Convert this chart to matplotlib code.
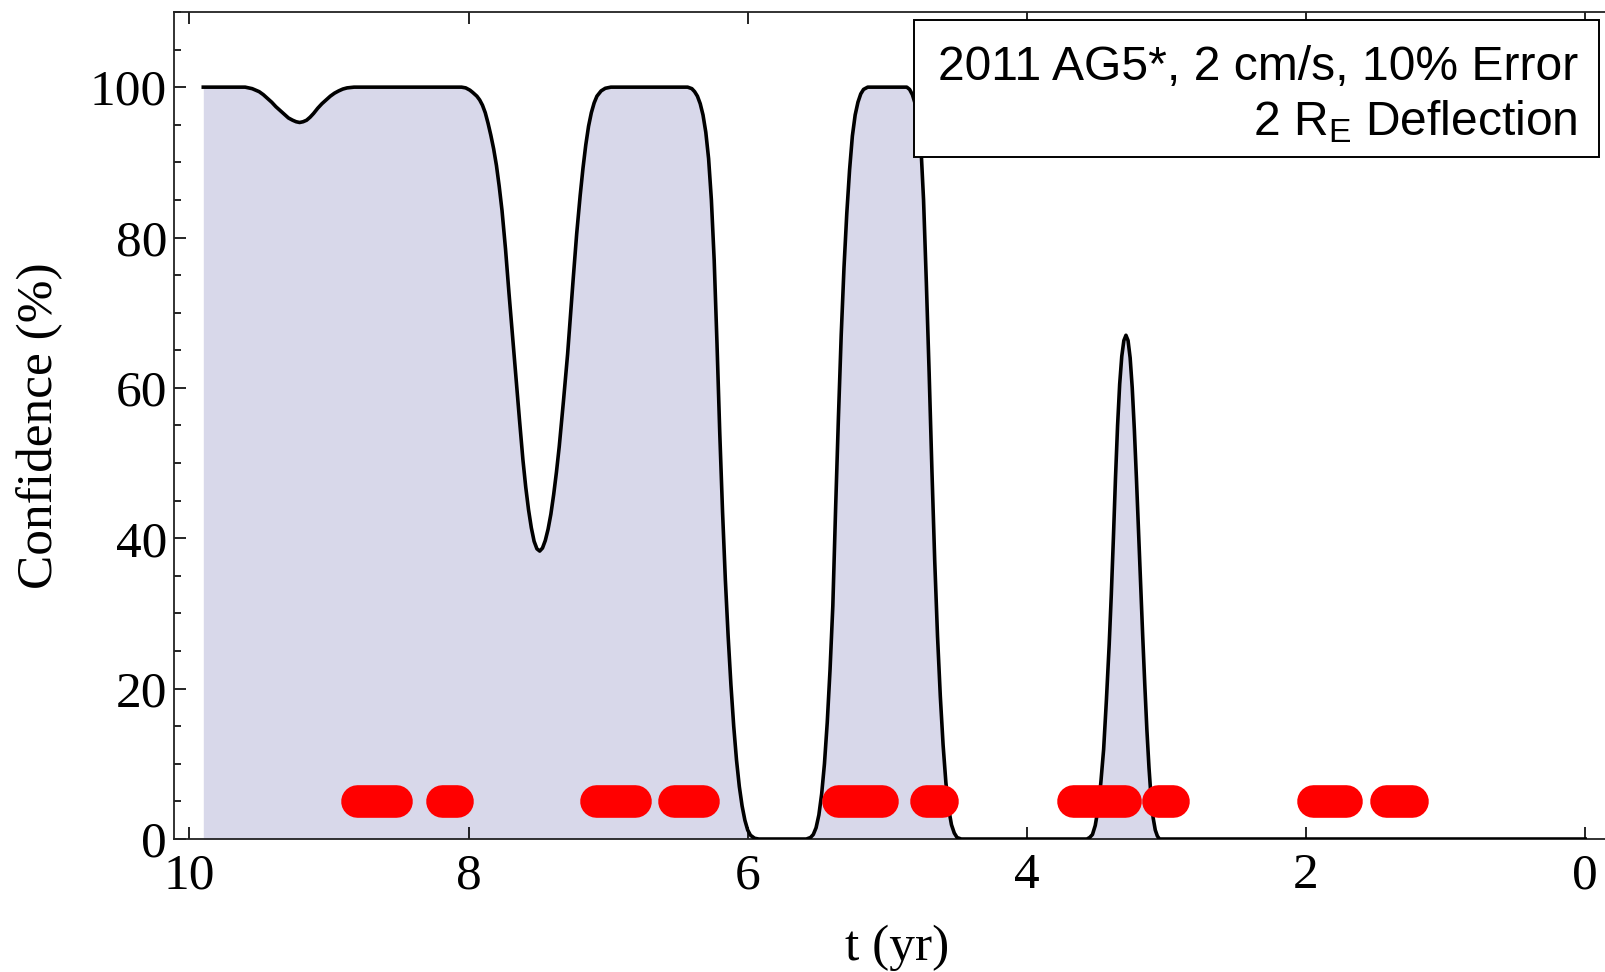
import matplotlib
matplotlib.use('Agg')
import matplotlib.pyplot as plt
from matplotlib.patches import Rectangle
from matplotlib.ticker import MultipleLocator

# confidence curve (t in years, confidence in %)
t = [9.90, 9.60, 9.55, 9.50, 9.47, 9.44, 9.41, 9.38, 9.35, 9.32, 9.29, 9.26, 9.235, 9.21, 9.185,
     9.16, 9.135, 9.11, 9.08, 9.05, 9.02, 8.99, 8.96, 8.93, 8.90, 8.87, 8.82,
     8.05, 8.02, 7.99, 7.97, 7.94, 7.92, 7.90, 7.88, 7.86, 7.84, 7.82, 7.80, 7.78, 7.76, 7.735,
     7.71, 7.685, 7.66, 7.635, 7.61, 7.59, 7.57, 7.55, 7.53, 7.51, 7.49, 7.47, 7.45, 7.43, 7.41,
     7.39, 7.37, 7.35, 7.32, 7.29, 7.27, 7.25, 7.225, 7.20, 7.18, 7.16, 7.14, 7.12, 7.10, 7.08,
     7.05, 7.02, 6.98,
     6.43, 6.40, 6.38, 6.36, 6.34, 6.32, 6.30, 6.28, 6.26, 6.24, 6.22, 6.20, 6.18, 6.16, 6.14,
     6.12, 6.10, 6.08, 6.06, 6.04, 6.02, 6.00, 5.98, 5.95, 5.92,
     5.58, 5.55, 5.53, 5.51, 5.49, 5.47, 5.45, 5.43, 5.41, 5.39, 5.37, 5.35, 5.33, 5.31, 5.29,
     5.27, 5.25, 5.23, 5.21, 5.19, 5.17, 5.14,
     4.86, 4.84, 4.82, 4.80, 4.78, 4.76, 4.74, 4.72, 4.70, 4.68, 4.66, 4.64, 4.62, 4.60, 4.58,
     4.56, 4.54, 4.52, 4.50, 4.47,
     3.57, 3.55, 3.53, 3.51, 3.49, 3.47, 3.45, 3.43, 3.41, 3.395, 3.38, 3.365, 3.35, 3.335, 3.32,
     3.305, 3.29, 3.275, 3.26, 3.245, 3.23, 3.215, 3.20, 3.185, 3.17, 3.155, 3.14, 3.125, 3.11,
     3.095, 3.08, 3.065, 3.05, 0.0]
conf = [100, 100, 99.8, 99.4, 99.0, 98.5, 98.0, 97.4, 96.9, 96.4, 95.9, 95.6, 95.4, 95.3, 95.4,
        95.6, 96.0, 96.5, 97.2, 97.8, 98.3, 98.8, 99.2, 99.5, 99.75, 99.9, 100,
        100, 99.9, 99.6, 99.3, 98.8, 98.3, 97.6, 96.6, 95.2, 93.6, 91.8, 89.6, 86.8, 83.6, 78.5,
        72.6, 67.0, 61.4, 55.8, 50.4, 46.8, 43.8, 41.4, 39.6, 38.6, 38.3, 38.7, 39.7, 41.2, 43.2,
        45.8, 48.8, 52.2, 58.2, 64.5, 69.5, 74.5, 80.5, 85.6, 89.2, 92.3, 94.8, 96.6, 97.9, 98.8,
        99.5, 99.85, 100,
        100, 99.8, 99.4, 98.8, 97.8, 96.3, 94.0, 90.5, 85.0, 77.0, 66.0, 54.0, 43.5, 34.5, 27.0,
        20.5, 15.0, 10.5, 7.0, 4.4, 2.5, 1.2, 0.5, 0.1, 0,
        0, 0.2, 0.6, 1.5, 3.2, 6.0, 10.0, 15.5, 22.5, 31.0, 44.0, 56.0, 67.0, 76.0, 83.2,
        89.0, 93.5, 96.3, 98.0, 99.1, 99.7, 100,
        100, 99.7, 99.0, 97.8, 95.8, 92.5, 85.0, 74.0, 62.0, 49.0, 37.0, 27.0, 19.0, 12.5, 7.5,
        4.0, 1.9, 0.8, 0.2, 0,
        0, 0.2, 0.6, 1.8, 4.0, 7.5, 11.9, 18.5, 25.9, 32.5, 40.0, 48.0, 55.0, 60.5, 64.2,
        66.3, 67.0, 66.3, 64.0, 60.0, 54.5, 48.0, 41.0, 34.0, 27.0, 20.5, 14.5, 9.5, 5.5,
        2.8, 1.2, 0.4, 0, 0]

# observation windows (red bars), first and last point of each run
obs_start = [8.80, 8.19, 7.09, 6.53, 5.35, 4.72, 3.67, 3.06, 1.95, 1.43]
obs_end = [8.52, 8.08, 6.81, 6.32, 5.04, 4.61, 3.30, 2.95, 1.71, 1.24]
obs_level = 5

x_ticks = [10, 8, 6, 4, 2, 0]
y_ticks = [0, 20, 40, 60, 80, 100]

serif = 'Liberation Serif'

fig = plt.figure(figsize=(16.05, 9.72), dpi=100)
ax = fig.add_axes([0.1084, 0.1368, 0.9010, 0.8509])

ax.fill_between(t, conf, 0, color='#d8d8ea', lw=0, zorder=1)
ax.plot(t, conf, color='black', lw=2.6, zorder=3, solid_joinstyle='round')

for s, e in zip(obs_start, obs_end):
    ax.plot([s, e], [obs_level, obs_level], color='#ff0000', lw=23.5,
            solid_capstyle='round', zorder=4)

ax.set_xlim(10.11, -0.25)
ax.set_ylim(0, 110)
ax.set_xticks(x_ticks)
ax.set_yticks(y_ticks)
ax.yaxis.set_minor_locator(MultipleLocator(5))

ax.tick_params(which='both', direction='in', top=True, right=True, width=1.2, color='black')
ax.tick_params(which='major', length=8.5)
ax.tick_params(which='minor', length=5, right=False)
ax.tick_params(axis='x', labelsize=37, pad=10)
ax.tick_params(axis='y', labelsize=37, pad=5)
for lab in ax.get_xticklabels() + ax.get_yticklabels():
    lab.set_family(serif)

for sp in ax.spines.values():
    sp.set_linewidth(1.3)
    sp.set_color('#222222')

ax.set_xlabel('t (yr)', fontsize=37, family=serif, labelpad=18)
ax.set_ylabel('Confidence (%)', fontsize=37, family=serif, labelpad=19)

# annotation box in the top right corner
box = Rectangle((914 / 1605, 1 - 157 / 972), (1599 - 914) / 1605, (157 - 20) / 972,
                transform=fig.transFigure, facecolor='white', edgecolor='black', lw=1.4, zorder=5)
fig.patches.append(box)
fig.text(1578 / 1605, 1 - 80 / 972, '2011 AG5*, 2 cm/s, 10% Error', ha='right', va='baseline',
         fontsize=34.6, family='Liberation Sans', zorder=6)
fig.text(1578 / 1605, 1 - 135 / 972, r'2 R$_{\mathregular{E}}$ Deflection', ha='right', va='baseline',
         fontsize=34.6, family='Liberation Sans', zorder=6)

plt.savefig('out.png', dpi=100)
